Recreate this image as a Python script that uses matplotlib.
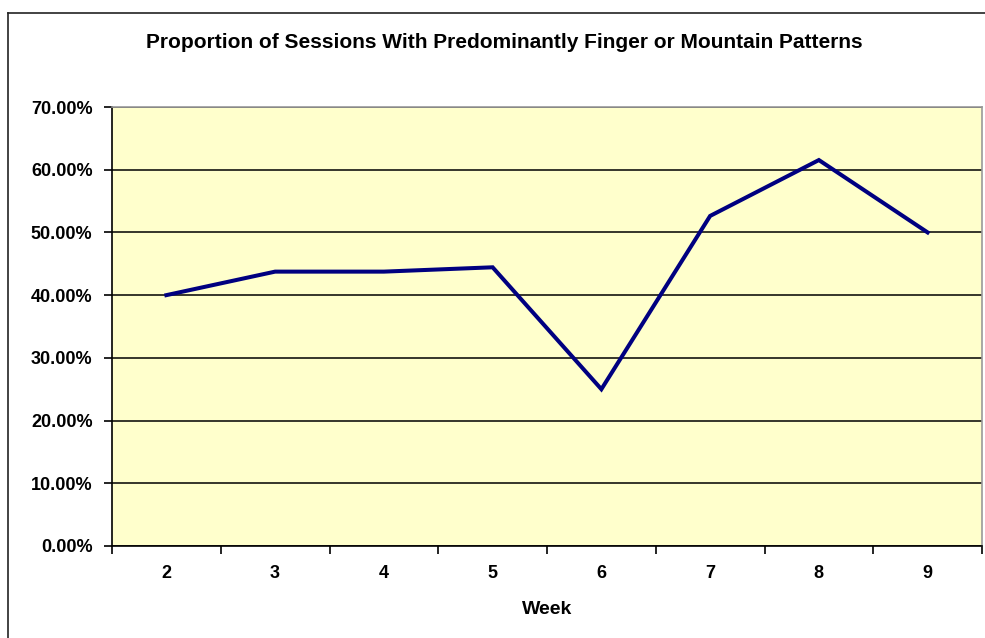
import matplotlib
matplotlib.use('Agg')
import matplotlib.pyplot as plt
from matplotlib.lines import Line2D
from matplotlib.ticker import FuncFormatter

weeks = ['2', '3', '4', '5', '6', '7', '8', '9']
proportion = [40.0, 43.75, 43.75, 44.44, 25.0, 52.63, 61.54, 50.0]
title = 'Proportion of Sessions With Predominantly Finger or Mountain Patterns'

plt.rcParams['font.family'] = ['Liberation Sans', 'DejaVu Sans']

fig = plt.figure(figsize=(9.85, 6.38), dpi=100)
ax = fig.add_axes([112 / 985, 1 - 546 / 638, (982 - 112) / 985, (546 - 107) / 638])
ax.set_facecolor('#FFFFCC')

# outer chart frame (left and top edges visible)
fig.add_artist(Line2D([8 / 985, 8 / 985], [0, 1 - 13 / 638], transform=fig.transFigure,
                      color='#222222', lw=1.2))
fig.add_artist(Line2D([8 / 985, 1], [1 - 13 / 638, 1 - 13 / 638], transform=fig.transFigure,
                      color='#222222', lw=1.2))

x = list(range(1, len(weeks) + 1))
ax.plot(x, proportion, color='#000080', lw=2.9, solid_joinstyle='miter', zorder=3)

ax.set_xlim(0.5, len(weeks) + 0.5)
ax.set_ylim(0, 70)
ax.set_yticks(range(0, 71, 10))
ax.yaxis.set_major_formatter(FuncFormatter(lambda v, p: f'{v:.2f}%'))
ax.grid(axis='y', color='black', lw=1.1)
ax.set_axisbelow(True)

# category ticks at boundaries, labels at centres
ax.set_xticks([i + 0.5 for i in range(0, len(weeks) + 1)])
ax.set_xticklabels([])
ax.set_xticks(x, minor=True)
ax.set_xticklabels(weeks, minor=True)
ax.tick_params(axis='x', which='major', length=6, width=1.2, direction='out')
ax.tick_params(axis='x', which='minor', length=0, pad=14, labelsize=13)
ax.tick_params(axis='y', length=6, width=1.2, direction='out', pad=8, labelsize=13)
for lbl in ax.get_xticklabels(minor=True) + ax.get_yticklabels():
    lbl.set_fontweight('bold')

for s in ['left', 'bottom']:
    ax.spines[s].set_color('black')
    ax.spines[s].set_linewidth(1.2)
for s in ['top', 'right']:
    ax.spines[s].set_color('#999999')
    ax.spines[s].set_linewidth(1.2)

ax.set_xlabel('Week', fontsize=14, fontweight='bold', labelpad=13)
fig.text(504 / 985, 1 - 43 / 638, title, ha='center', va='center',
         fontsize=15, fontweight='bold')

fig.savefig('out.png', dpi=100)
